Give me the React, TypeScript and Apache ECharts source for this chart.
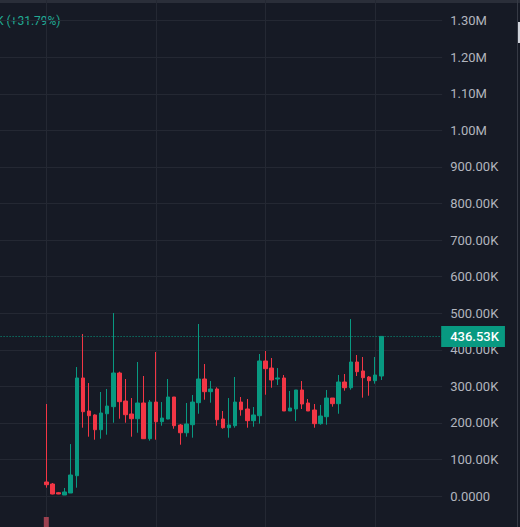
import React, { useEffect, useRef } from 'react';
import * as echarts from 'echarts';

// Candles (values in thousands)
const opens = [38.3, 32.8, 9.0, 2.7, 8.2, 55.5, 322.8, 232.5, 221.6, 181.3, 225.0, 244.3, 336.4, 259.8, 224.3, 211.4, 254.4, 156.7, 257.0, 203.2, 210.6, 270.8, 194.2, 173.0, 195.0, 255.2, 320.0, 285.3, 292.7, 210.6, 186.8, 192.3, 257.0, 238.0, 206.0, 219.6, 369.3, 350.0, 320.0, 322.8, 232.5, 238.0, 290.0, 254.4, 235.2, 197.8, 216.9, 268.0, 252.5, 311.8, 296.2, 366.5, 342.0, 325.5, 315.4, 328.2];
const closes = [30.9, 5.5, 5.5, 11.0, 57.4, 322.8, 230.6, 219.6, 181.3, 227.0, 246.0, 336.4, 258.0, 222.4, 211.4, 254.4, 156.7, 257.0, 203.2, 213.3, 270.8, 192.3, 173.0, 197.0, 257.0, 320.0, 285.3, 292.7, 208.7, 186.8, 194.2, 257.0, 236.0, 206.0, 221.6, 369.3, 348.2, 317.3, 322.8, 232.5, 240.7, 290.0, 251.6, 232.5, 197.8, 218.8, 268.0, 252.5, 311.8, 296.2, 366.5, 340.0, 323.6, 315.4, 331.0, 436.53];
const lows = [22.7, 4.5, 5.0, 2.7, 8.2, 22.7, 186.8, 162.2, 154.0, 156.7, 167.7, 200.5, 211.4, 200.5, 162.2, 173.0, 156.7, 151.3, 154.0, 192.3, 210.0, 184.0, 140.3, 162.2, 159.5, 225.0, 263.4, 255.2, 192.3, 184.0, 159.5, 186.8, 219.6, 186.8, 189.5, 197.8, 277.0, 296.2, 303.6, 232.5, 232.5, 205.0, 238.0, 232.5, 186.8, 195.0, 195.0, 244.3, 225.0, 288.0, 290.8, 328.2, 268.9, 274.3, 307.2, 317.3];
const highs = [251.6, 35.6, 11.0, 21.9, 142.0, 352.8, 443.0, 309.0, 223.5, 284.5, 292.7, 500.5, 340.0, 320.0, 268.0, 366.5, 328.2, 262.6, 393.9, 257.0, 320.0, 270.8, 197.0, 254.4, 276.3, 470.5, 361.0, 314.5, 297.3, 232.5, 268.0, 325.5, 270.8, 265.3, 243.4, 388.4, 396.6, 377.5, 350.0, 331.0, 287.2, 290.0, 314.5, 265.3, 251.6, 249.0, 290.0, 268.0, 331.0, 333.7, 484.0, 385.7, 380.2, 328.2, 380.2, 436.53];
// Volume (relative units); only the first bar reaches into view
const volumes = [2.84];
const lastPrice = 436.53;
const legendText = 'K (+31.79%)';

const LEAD = 8;
const SLOTS = 74;
const BG = '#161a25';
const GRID = '#242833';
const UP = '#089981';
const DOWN = '#f23645';

function fmt(v: number): string {
  if (v === 0) return '0.0000';
  if (Math.abs(v) >= 1e6) return (v / 1e6).toFixed(2) + 'M';
  return (v / 1e3).toFixed(2) + 'K';
}

export default function App() {
  const ref = useRef<HTMLDivElement>(null);
  useEffect(() => {
    document.body.style.margin = '0';
    document.body.style.background = BG;
    const chart = echarts.init(ref.current!, null, { renderer: 'svg' });
    const cats = Array.from({ length: SLOTS }, (_, i) => 'd' + i);
    const pad: any[] = Array.from({ length: LEAD }, () => ['-', '-', '-', '-']);
    const candles = pad.concat(
      opens.map((o, i) => [o * 1000, closes[i] * 1000, lows[i] * 1000, highs[i] * 1000])
    );
    const vol: any[] = Array.from({ length: LEAD }, () => '-').concat(volumes as any[]);

    chart.setOption({
      animation: false,
      backgroundColor: BG,
      grid: {
        left: -2.42,
        top: -15.84,
        width: 444.6,
        height: 548.4,
        containLabel: false,
        outerBoundsMode: 'none',
      },
      xAxis: {
        type: 'category',
        data: cats,
        boundaryGap: false,
        axisLine: { show: false },
        axisTick: { show: false },
        axisLabel: { show: false },
        splitLine: {
          show: true,
          interval: (i: number) => i >= LEAD && (i - LEAD) % 18 === 0,
          lineStyle: { color: GRID, width: 1 },
        },
      },
      yAxis: [
        {
          type: 'value',
          position: 'right',
          min: -100000,
          max: 1400000,
          interval: 100000,
          axisLine: { show: false },
          axisTick: { show: false },
          splitLine: { show: true, lineStyle: { color: GRID, width: 1 } },
          axisLabel: {
            show: true,
            inside: false,
            margin: 8,
            align: 'left',
            color: '#b2b5be',
            fontFamily: 'Roboto',
            fontSize: 13,
            showMinLabel: false,
            showMaxLabel: false,
            formatter: (v: number) => fmt(v),
          },
        },
        {
          type: 'value',
          min: 0,
          max: 100,
          show: false,
          splitLine: { show: false },
        },
      ],
      series: [
        {
          type: 'bar',
          yAxisIndex: 1,
          data: vol,
          barWidth: 5,
          itemStyle: { color: '#9c4150' },
          silent: true,
          z: 1,
        },
        {
          type: 'candlestick',
          data: candles,
          barWidth: 4,
          itemStyle: {
            color: UP,
            color0: DOWN,
            borderColor: UP,
            borderColor0: DOWN,
            borderWidth: 1,
          },
          z: 3,
          markLine: {
            silent: true,
            symbol: ['none', 'none'],
            data: [{ yAxis: lastPrice * 1000 }],
            lineStyle: { color: UP, type: [1, 2], width: 1 },
            label: {
              show: true,
              position: 'end',
              distance: -1,
              formatter: fmt(lastPrice * 1000),
              backgroundColor: UP,
              color: '#ffffff',
              fontFamily: 'Roboto',
              fontSize: 13,
              fontWeight: 500,
              lineHeight: 15,
              padding: [3, 6, 3, 9],
            },
          },
        },
      ],
      graphic: [
        { type: 'rect', left: 0, top: 0, shape: { width: 520, height: 3 }, style: { fill: '#2a2e39' }, silent: true },
        {
          type: 'text',
          x: -4,
          y: 21,
          style: {
            text: legendText,
            fill: '#22ab94',
            font: '12px Roboto',
            textVerticalAlign: 'middle',
          },
          silent: true,
        },
        { type: 'line', shape: { x1: 517.5, y1: 0, x2: 517.5, y2: 527 }, style: { stroke: '#363a45', lineWidth: 1 }, silent: true },
        { type: 'rect', shape: { x: 518, y: 22, width: 2, height: 21 }, style: { fill: '#d1d4dc' }, silent: true },
      ],
    });
    return () => chart.dispose();
  }, []);
  return <div ref={ref} style={{ width: 520, height: 527 }} />;
}
